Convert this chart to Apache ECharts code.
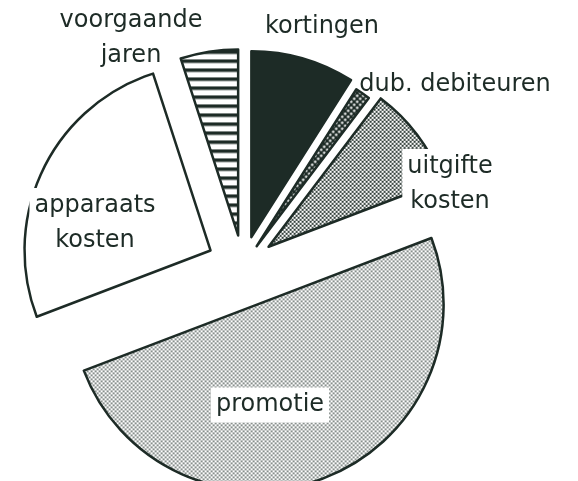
<!DOCTYPE html>
<html>
<head>
<meta charset="utf-8">
<script src="https://cdn.jsdelivr.net/npm/echarts@6/dist/echarts.min.js"></script>
<style>
    html, body { margin: 0; padding: 0; background: #fff; }
    #main { width: 578px; height: 481px; }
</style>
</head>
<body>
<div id="main"></div>
<script>
// slices, clockwise from 12 o'clock
var names = ['kortingen', 'dub. debiteuren', 'uitgifte\nkosten', 'promotie', 'apparaats\nkosten', 'voorgaande\njaren'];
var values = [9.0, 1.3, 8.9, 50, 25.8, 5.0];

// how far each slice is pulled out, and where its label sits
var offsets = [30, 24, 32, 41, 36, 31];
var labelPos = [[322, 27], [455, 85], [450, 184], [270, 405], [95, 223], [131, 38]];
var labelBox = [false, false, true, true, true, false];

var ink = '#1d2b26';
var pieCenter = [243, 266];
var pieRadius = 186;

function tile(w, h, draw) {
    var c = document.createElement('canvas');
    c.width = w;
    c.height = h;
    var ctx = c.getContext('2d');
    ctx.fillStyle = '#fff';
    ctx.fillRect(0, 0, w, h);
    ctx.fillStyle = ink;
    draw(ctx);
    return { image: c, repeat: 'repeat' };
}

function dots(ctx, pts, r) {
    pts.forEach(function (p) {
        ctx.beginPath();
        ctx.arc(p[0], p[1], r, 0, Math.PI * 2);
        ctx.fill();
    });
}

var fills = [
    ink,
    tile(6, 6, function (ctx) {
        ctx.fillRect(0, 0, 6, 6);
        ctx.fillStyle = '#fff';
        dots(ctx, [[1.5, 1.5], [4.5, 4.5]], 1.2);
    }),
    tile(4, 4, function (ctx) { dots(ctx, [[1, 1], [3, 3]], 1.1); }),
    tile(4, 4, function (ctx) { dots(ctx, [[1, 1], [3, 3]], 0.85); }),
    '#fff',
    tile(4, 9, function (ctx) { ctx.fillRect(0, 0, 4, 3.5); })
];

var chart = echarts.init(document.getElementById('main'));

// one pie per slice so every slice gets its own pull-out distance
var series = names.map(function (n, i) {
    return {
        type: 'pie',
        center: pieCenter,
        radius: pieRadius,
        startAngle: 90,
        selectedMode: 'single',
        selectedOffset: offsets[i],
        animation: false,
        silent: true,
        label: { show: false },
        labelLine: { show: false },
        data: names.map(function (m, j) {
            if (j === i) {
                return {
                    name: m,
                    value: values[j],
                    selected: true,
                    itemStyle: { color: fills[j], borderColor: ink, borderWidth: 2.5 }
                };
            }
            return { name: m, value: values[j], itemStyle: { opacity: 0 } };
        })
    };
});

// labels on their own (unselected) pie, so labelLayout can place them
series.push({
    type: 'pie',
    center: pieCenter,
    radius: pieRadius,
    startAngle: 90,
    avoidLabelOverlap: false,
    animation: false,
    silent: true,
    z: 10,
    itemStyle: { color: 'transparent', borderWidth: 0 },
    labelLine: { show: false },
    label: {
        show: true,
        position: 'outside',
        formatter: '{b}',
        fontFamily: 'DejaVu Sans',
        fontSize: 24,
        lineHeight: 35,
        color: ink,
        opacity: 1
    },
    labelLayout: function (params) {
        var p = labelPos[params.dataIndex];
        return { x: p[0], y: p[1], align: 'center', verticalAlign: 'middle' };
    },
    data: names.map(function (m, j) {
        return {
            name: m,
            value: values[j],
            label: labelBox[j] ? { backgroundColor: '#fff', padding: [0, 5] } : {}
        };
    })
});

chart.setOption({
    backgroundColor: '#fff',
    series: series
});
</script>
</body>
</html>
